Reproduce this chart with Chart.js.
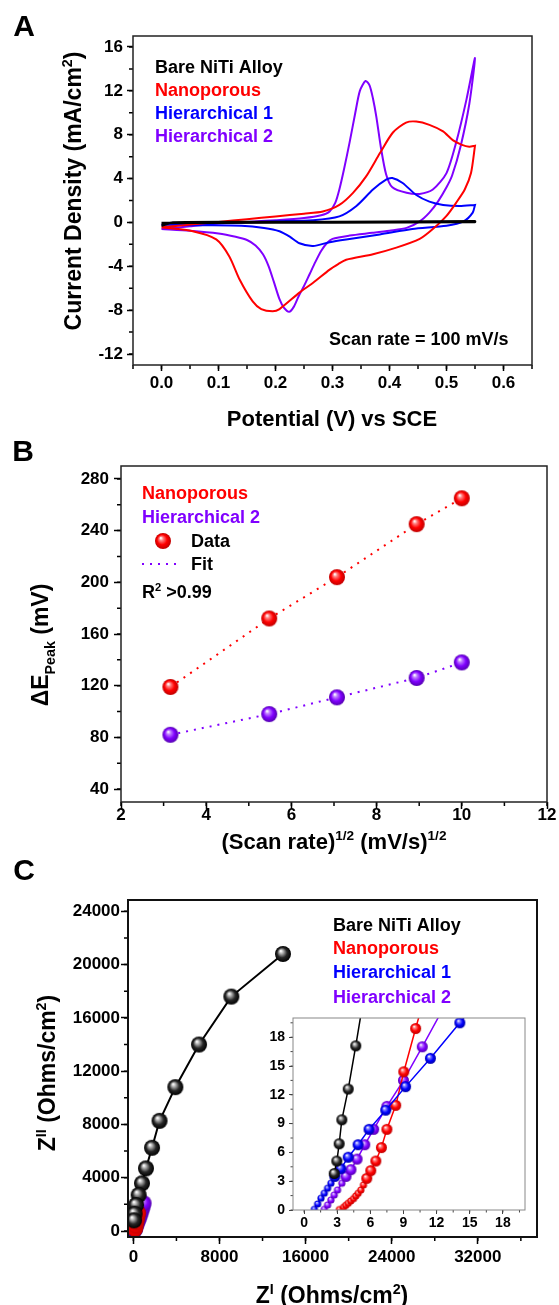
<!DOCTYPE html>
<html>
<head>
<meta charset="utf-8">
<script src="https://cdn.jsdelivr.net/npm/chart.js@4.4.1/dist/chart.umd.min.js"></script>
<style>
html,body{margin:0;padding:0;background:#fff;}
body{width:559px;height:1305px;position:relative;overflow:hidden;}
canvas{position:absolute;}
</style>
</head>
<body>
<canvas id="cvA" width="559" height="435" style="left:0;top:0"></canvas>
<canvas id="cvB" width="559" height="430" style="left:0;top:430px"></canvas>
<canvas id="cvC" width="559" height="455" style="left:0;top:850px"></canvas>
<canvas id="cvIn" width="275" height="250" style="left:260px;top:990px"></canvas>
<script>
// ---- panel A: cyclic voltammograms (potential V, current mA/cm2) ----
const bareV = [0, 0.02, 0.2, 0.4, 0.55, 0.55, 0.3, 0.1, 0];
const bareI = [-0.3, 0.0, 0.03, 0.06, 0.1, 0.05, 0.0, -0.03, -0.05];

const nanoV = [0, 0.05, 0.10, 0.15, 0.20, 0.25, 0.283, 0.312, 0.336, 0.359, 0.383, 0.406, 0.429, 0.447, 0.47, 0.494, 0.511, 0.526, 0.54, 0.55,
               0.55, 0.543, 0.532, 0.517, 0.50, 0.476, 0.453, 0.412, 0.371, 0.324, 0.31, 0.295, 0.266, 0.242, 0.207, 0.195, 0.175, 0.16, 0.137, 0.119, 0.096, 0.055, 0];
const nanoI = [-0.45, -0.2, 0.05, 0.3, 0.55, 0.8, 1.0, 1.6, 2.7, 4.2, 6.3, 8.2, 9.1, 9.2, 8.9, 8.3, 7.5, 7.1, 6.9, 7.0,
               7.0, 4.5, 3.0, 1.8, 0.6, -0.6, -1.5, -2.3, -2.9, -3.4, -3.8, -4.3, -5.5, -6.4, -7.9, -8.1, -7.9, -7.2, -5.2, -3.1, -1.55, -0.8, -0.45];

const hier1V = [0, 0.1, 0.2, 0.266, 0.312, 0.342, 0.371, 0.394, 0.405, 0.423, 0.447, 0.47, 0.494, 0.523, 0.55,
                0.55, 0.546, 0.53, 0.50, 0.44, 0.383, 0.324, 0.295, 0.266, 0.242, 0.225, 0.207, 0.18, 0.14, 0.07, 0];
const hier1I = [-0.2, -0.05, 0.1, 0.2, 0.55, 1.5, 3.0, 3.9, 4.05, 3.6, 2.5, 1.9, 1.6, 1.5, 1.6,
                1.6, 0.9, 0.1, -0.3, -0.6, -1.1, -1.55, -1.8, -2.15, -1.9, -1.3, -0.8, -0.5, -0.3, -0.25, -0.2];

const hier2V = [0, 0.05, 0.10, 0.15, 0.20, 0.25, 0.28, 0.295, 0.305, 0.312, 0.32, 0.33, 0.34, 0.348, 0.358, 0.365, 0.371, 0.377, 0.385, 0.394, 0.405, 0.43, 0.453, 0.476, 0.50, 0.517, 0.535, 0.55,
                0.54, 0.525, 0.51, 0.50, 0.485, 0.47, 0.453, 0.43, 0.40, 0.37, 0.33, 0.30, 0.29, 0.28, 0.27, 0.26, 0.25, 0.24, 0.232, 0.224, 0.215, 0.207, 0.197, 0.188, 0.178, 0.165, 0.15, 0.13, 0.10, 0.05, 0];
const hier2I = [-0.6, -0.35, -0.1, 0.05, 0.2, 0.4, 0.65, 1.0, 1.8, 3.0, 4.8, 7.3, 10.0, 12.0, 12.9, 12.5, 11.3, 9.6, 6.8, 4.4, 3.2, 2.7, 2.6, 3.0, 4.5, 7.3, 11.2, 15.0,
                10.8, 7.0, 4.3, 3.2, 1.9, 0.9, 0.1, -0.5, -0.75, -0.95, -1.2, -1.5, -1.9, -2.6, -3.6, -4.7, -5.8, -6.8, -7.7, -8.15, -7.8, -7.0, -5.4, -4.0, -2.9, -2.1, -1.6, -1.3, -1.0, -0.75, -0.6];

const ticksAx = [0, 0.1, 0.2, 0.3, 0.4, 0.5, 0.6];
const ticksAy = [-12, -8, -4, 0, 4, 8, 12, 16];

// ---- panel B: peak separation vs sqrt(scan rate) ----
const rateSqrt = [3.16, 5.48, 7.07, 8.94, 10.0];
const dEpNano = [119, 172, 204, 245, 265];
const dEpHier2 = [82, 98, 111, 126, 138];
const ticksBx = [2, 4, 6, 8, 10, 12];
const ticksBy = [40, 80, 120, 160, 200, 240, 280];

// ---- panel C: Nyquist plot (Ohms/cm2) ----
const bareZre = [13900, 9100, 6100, 3900, 2430, 1730, 1170, 800, 490, 250, 120, 60];
const bareZim = [20800, 17600, 14000, 10800, 8270, 6250, 4700, 3580, 2700, 1950, 1300, 800];
const nanoZre = [150, 200, 260, 320, 380, 440];
const nanoZim = [150, 400, 650, 900, 1150, 1350];
const hier1Zre = [120, 180, 250, 320, 400];
const hier1Zim = [100, 400, 700, 1000, 1300];
const hier2Zre = [60, 120, 180, 250, 320, 400, 480, 560, 650, 750, 850, 950];
const hier2Zim = [50, 150, 280, 420, 570, 730, 900, 1080, 1300, 1550, 1800, 2080];
const ticksCx = [0, 8000, 16000, 24000, 32000];
const ticksCy = [0, 4000, 8000, 12000, 16000, 20000, 24000];

// inset (zoom of the high-frequency part)
const inBareRe = [2.73, 2.97, 3.18, 3.42, 4.0, 4.68, 5.6];
const inBareIm = [3.8, 5.1, 6.9, 9.4, 12.6, 17.1, 23.5];
const inNanoRe = [3.2, 3.58, 3.78, 4.0, 4.23, 4.48, 4.68, 4.9, 5.14, 5.38, 5.68, 6.04, 6.5, 7.0, 7.5, 8.3, 9.03, 10.1, 11.1];
const inNanoIm = [0.05, 0.28, 0.49, 0.7, 0.94, 1.18, 1.46, 1.74, 2.08, 2.6, 3.3, 4.1, 5.1, 6.5, 8.4, 10.9, 14.4, 18.9, 23];
const inHier1Re = [0.93, 1.23, 1.53, 1.83, 2.13, 2.43, 2.79, 3.33, 4.0, 4.89, 5.88, 7.39, 9.19, 11.44, 14.1, 15.5];
const inHier1Im = [0.07, 0.63, 1.22, 1.74, 2.26, 2.78, 3.5, 4.3, 5.5, 6.8, 8.4, 10.4, 12.85, 15.8, 19.5, 21.5];
const inHier2Re = [1.83, 2.13, 2.43, 2.73, 3.03, 3.42, 3.8, 4.25, 4.8, 5.5, 6.3, 7.5, 9.0, 10.7, 12.6];
const inHier2Im = [0.07, 0.52, 1.04, 1.56, 2.08, 2.78, 3.5, 4.2, 5.3, 6.8, 8.4, 10.8, 13.5, 17.0, 21];
const ticksIn = [0, 3, 6, 9, 12, 15, 18];

const RED = '#ff0000', BLUE = '#0000ff', PURPLE = '#8000ff', BLACK = '#000000';
const FONT = "'Liberation Sans', Arial, sans-serif";
Chart.defaults.font.family = FONT;
Chart.defaults.font.weight = 'bold';
Chart.defaults.color = '#000';

function xy(xs, ys){ return xs.map((x, i) => ({x: x, y: ys[i]})); }

// shaded sphere markers like the Origin "ball" symbol
function ball(c0, c1, c2, r){
  const cv = document.createElement('canvas');
  const s = Math.ceil(r * 2 + 2);
  cv.width = cv.height = s;
  const g = cv.getContext('2d');
  const c = s / 2;
  const gr = g.createRadialGradient(c - r * 0.28, c - r * 0.38, r * 0.05, c, c, r);
  gr.addColorStop(0, '#ffffff');
  gr.addColorStop(0.22, c0);
  gr.addColorStop(0.6, c1);
  gr.addColorStop(1, c2);
  g.fillStyle = gr;
  g.beginPath(); g.arc(c, c, r, 0, Math.PI * 2); g.fill();
  return cv;
}
const balls = {
  red: r => ball('#ff8080', '#ff0000', '#c00000', r),
  blue: r => ball('#8080ff', '#0000ff', '#0000a8', r),
  purple: r => ball('#c080ff', '#8000ff', '#5400b0', r),
  black: r => ball('#b0b0b0', '#262626', '#000000', r)
};

// text with sup/sub parts, centred on (x, y) unless align = 'left'
function drawRich(ctx, t){
  ctx.save();
  ctx.translate(t.x, t.y);
  if (t.rot) ctx.rotate(t.rot);
  ctx.fillStyle = t.color || '#000';
  ctx.textBaseline = 'alphabetic';
  let w = 0;
  const parts = t.segs.map(s => {
    const sz = s[1] ? t.size * 0.62 : t.size;
    ctx.font = 'bold ' + sz + 'px ' + FONT;
    const mw = ctx.measureText(s[0]).width;
    w += mw;
    return {txt: s[0], mode: s[1], sz: sz, mw: mw};
  });
  let x = t.align === 'left' ? 0 : -w / 2;
  const base = t.size * 0.36;
  parts.forEach(p => {
    ctx.font = 'bold ' + p.sz + 'px ' + FONT;
    const dy = p.mode === 'sup' ? -t.size * 0.42 : p.mode === 'sub' ? t.size * 0.3 : 0;
    ctx.fillText(p.txt, x, base + dy);
    x += p.mw;
  });
  ctx.restore();
}

// frame, minor ticks and all texts
function deco(cfg){
  return {
    id: 'deco',
    afterDraw(chart){
      const ctx = chart.ctx, a = chart.chartArea, sx = chart.scales.x, sy = chart.scales.y;
      ctx.save();
      ctx.strokeStyle = cfg.tickColor; ctx.lineWidth = cfg.tickWidth;
      ctx.beginPath();
      for (let k = Math.ceil(sx.min / cfg.minorX - 1e-9); k * cfg.minorX <= sx.max + 1e-9; k++) {
        const p = sx.getPixelForValue(k * cfg.minorX);
        ctx.moveTo(p, a.bottom); ctx.lineTo(p, a.bottom + cfg.minorLen);
      }
      for (let k = Math.ceil(sy.min / cfg.minorY - 1e-9); k * cfg.minorY <= sy.max + 1e-9; k++) {
        const p = sy.getPixelForValue(k * cfg.minorY);
        ctx.moveTo(a.left, p); ctx.lineTo(a.left - cfg.minorLen, p);
      }
      ctx.stroke();
      ctx.strokeStyle = cfg.frameColor; ctx.lineWidth = cfg.frameWidth;
      ctx.strokeRect(a.left, a.top, a.right - a.left, a.bottom - a.top);
      (cfg.texts || []).forEach(t => drawRich(ctx, t));
      if (cfg.extra) cfg.extra(ctx, chart);
      ctx.restore();
    }
  };
}

function scale(o){
  return {
    type: 'linear', min: o.min, max: o.max,
    border: {display: false},
    grid: {display: true, drawOnChartArea: false, drawTicks: true, tickLength: o.tl, tickWidth: o.tw || 1.5, tickColor: o.tc || '#000'},
    ticks: {autoSkip: false, maxRotation: 0, padding: o.pad,
            font: {size: o.fs, weight: 'bold'}, color: '#000', callback: o.fmt || (v => String(v))},
    afterBuildTicks: s => { s.ticks = o.vals.map(v => ({value: v})); },
    afterFit: o.horiz ? (s => { s.height = o.fix; }) : (s => { s.width = o.fix; })
  };
}

const baseOpts = (pad, sx, sy) => ({
  responsive: false, animation: false, events: [],
  layout: {padding: pad},
  plugins: {legend: {display: false}, tooltip: {enabled: false}},
  scales: {x: sx, y: sy}
});

const cvLine = (xs, ys, color, w) => ({data: xy(xs, ys), showLine: true, borderColor: color, borderWidth: w, pointRadius: 0, tension: 0.25, fill: false});

// ---------------- A ----------------
new Chart(document.getElementById('cvA'), {
  type: 'scatter',
  data: {datasets: [
    cvLine(bareV, bareI, BLACK, 2.5),
    cvLine(nanoV, nanoI, RED, 2),
    cvLine(hier1V, hier1I, BLUE, 2),
    cvLine(hier2V, hier2I, PURPLE, 2)
  ]},
  options: baseOpts({left: 0, right: 27, top: 36, bottom: 0},
    scale({horiz: true, min: -0.05, max: 0.65, vals: ticksAx, fix: 70, tl: 6, pad: 2, fs: 17, fmt: v => v.toFixed(1)}),
    scale({min: -13, max: 17, vals: ticksAy, fix: 133, tl: 6, pad: 4, fs: 17})),
  plugins: [deco({
    tickColor: '#000', tickWidth: 1.5, minorLen: 4, minorX: 0.05, minorY: 2, frameColor: '#222', frameWidth: 1.5,
    texts: [
      {x: 24, y: 25, size: 30, segs: [['A']]},
      {x: 155, y: 67, size: 18, align: 'left', color: BLACK, segs: [['Bare NiTi Alloy']]},
      {x: 155, y: 90, size: 18, align: 'left', color: RED, segs: [['Nanoporous']]},
      {x: 155, y: 113, size: 18, align: 'left', color: BLUE, segs: [['Hierarchical 1']]},
      {x: 155, y: 136, size: 18, align: 'left', color: PURPLE, segs: [['Hierarchical 2']]},
      {x: 329, y: 339, size: 18, align: 'left', segs: [['Scan rate = 100 mV/s']]},
      {x: 332, y: 418, size: 22, segs: [['Potential (V) vs SCE']]},
      {x: 73, y: 191, size: 23, rot: -Math.PI / 2, segs: [['Current Density (mA/cm'], ['2', 'sup'], [')']]}
    ]
  })]
});

// ---------------- B ----------------
const ballB = {red: balls.red(8), purple: balls.purple(8)};
const fitSet = (ys, color, img) => ({data: xy(rateSqrt, ys), showLine: true, borderColor: color, borderWidth: 2,
  borderDash: [2, 6], pointStyle: img, pointRadius: 8, tension: 0});
new Chart(document.getElementById('cvB'), {
  type: 'scatter',
  data: {datasets: [
    fitSet(dEpNano, RED, ballB.red),
    fitSet(dEpHier2, PURPLE, ballB.purple)
  ]},
  options: baseOpts({left: 0, right: 12, top: 36, bottom: 0},
    scale({horiz: true, min: 2, max: 12, vals: ticksBx, fix: 58, tl: 7, pad: -4, fs: 17}),
    scale({min: 30, max: 290, vals: ticksBy, fix: 121, tl: 7, pad: 5, fs: 17})),
  plugins: [deco({
    tickColor: '#000', tickWidth: 1.5, minorLen: 4, minorX: 1, minorY: 20, frameColor: '#222', frameWidth: 1.5,
    texts: [
      {x: 23, y: 20, size: 30, segs: [['B']]},
      {x: 142, y: 63, size: 18, align: 'left', color: RED, segs: [['Nanoporous']]},
      {x: 142, y: 87, size: 18, align: 'left', color: PURPLE, segs: [['Hierarchical 2']]},
      {x: 191, y: 111, size: 18, align: 'left', segs: [['Data']]},
      {x: 191, y: 134, size: 18, align: 'left', segs: [['Fit']]},
      {x: 142, y: 162, size: 18, align: 'left', segs: [['R'], ['2', 'sup'], [' >0.99']]},
      {x: 334, y: 411, size: 22, segs: [['(Scan rate)'], ['1/2', 'sup'], [' (mV/s)'], ['1/2', 'sup']]},
      {x: 40, y: 215, size: 23, rot: -Math.PI / 2, segs: [['\u0394E'], ['Peak', 'sub'], [' (mV)']]}
    ],
    extra: (ctx) => {
      ctx.drawImage(ballB.red, 163 - ballB.red.width / 2, 111 - ballB.red.height / 2);
      ctx.strokeStyle = PURPLE; ctx.lineWidth = 2; ctx.setLineDash([2, 6]);
      ctx.beginPath(); ctx.moveTo(142, 134); ctx.lineTo(180, 134); ctx.stroke();
      ctx.setLineDash([]);
    }
  })]
});

// ---------------- C ----------------
const ballC = {black: balls.black(8), red: balls.red(8), blue: balls.blue(8), purple: balls.purple(8)};
const nyq = (xs, ys, color, img) => ({data: xy(xs, ys), showLine: true, borderColor: color, borderWidth: 2,
  pointStyle: img, pointRadius: 8, tension: 0, clip: 0});
new Chart(document.getElementById('cvC'), {
  type: 'scatter',
  data: {datasets: [
    nyq(bareZre, bareZim, BLACK, ballC.black),
    nyq(nanoZre, nanoZim, RED, ballC.red),
    nyq(hier1Zre, hier1Zim, BLUE, ballC.blue),
    nyq(hier2Zre, hier2Zim, PURPLE, ballC.purple)
  ]},
  options: baseOpts({left: 0, right: 22, top: 50, bottom: 0},
    scale({horiz: true, min: -500, max: 37500, vals: ticksCx, fix: 68, tl: 7, pad: 3, fs: 17}),
    scale({min: -450, max: 24850, vals: ticksCy, fix: 128, tl: 7, pad: 1, fs: 17})),
  plugins: [deco({
    tickColor: '#000', tickWidth: 1.5, minorLen: 4, minorX: 4000, minorY: 2000, frameColor: '#111', frameWidth: 2,
    texts: [
      {x: 24, y: 19, size: 30, segs: [['C']]},
      {x: 333, y: 75, size: 18, align: 'left', color: BLACK, segs: [['Bare NiTi Alloy']]},
      {x: 333, y: 98, size: 18, align: 'left', color: RED, segs: [['Nanoporous']]},
      {x: 333, y: 122, size: 18, align: 'left', color: BLUE, segs: [['Hierarchical 1']]},
      {x: 333, y: 147, size: 18, align: 'left', color: PURPLE, segs: [['Hierarchical 2']]},
      {x: 332, y: 445, size: 23, segs: [['Z'], ['I', 'sup'], [' (Ohms/cm'], ['2', 'sup'], [')']]},
      {x: 47, y: 223, size: 23, rot: -Math.PI / 2, segs: [['Z'], ['II', 'sup'], [' (Ohms/cm'], ['2', 'sup'], [')']]}
    ]
  })]
});

// ---------------- inset ----------------
const ballIn = {
  black: [balls.black(3.6), balls.black(5.5)], red: [balls.red(3.6), balls.red(5.5)],
  blue: [balls.blue(3.6), balls.blue(5.5)], purple: [balls.purple(3.6), balls.purple(5.5)]
};
const inSet = (xs, ys, color, pair) => ({data: xy(xs, ys), showLine: true, borderColor: color, borderWidth: 1.5,
  pointStyle: c => (c.raw && c.raw.y < 3 ? pair[0] : pair[1]), pointRadius: 5, tension: 0, clip: 0});
new Chart(document.getElementById('cvIn'), {
  type: 'scatter',
  data: {datasets: [
    inSet(inBareRe, inBareIm, BLACK, ballIn.black),
    inSet(inHier1Re, inHier1Im, BLUE, ballIn.blue),
    inSet(inNanoRe, inNanoIm, RED, ballIn.red),
    inSet(inHier2Re, inHier2Im, PURPLE, ballIn.purple)
  ]},
  options: baseOpts({left: 0, right: 10, top: 28, bottom: 0},
    scale({horiz: true, min: -1, max: 20, vals: ticksIn, fix: 30, tl: 4, tw: 1, tc: '#444', pad: 1, fs: 14}),
    scale({min: 0, max: 20, vals: ticksIn, fix: 33, tl: 4, tw: 1, tc: '#444', pad: 4, fs: 14})),
  plugins: [deco({
    tickColor: '#444', tickWidth: 1, minorLen: 2.5, minorX: 1.5, minorY: 1.5, frameColor: '#888', frameWidth: 1
  })]
});
</script>
</body>
</html>
